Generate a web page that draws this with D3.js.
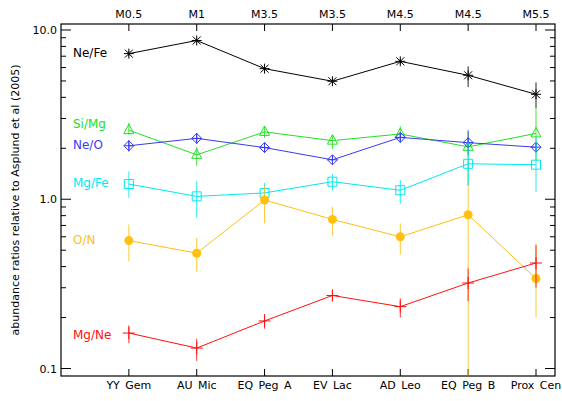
<!DOCTYPE html>
<html>
<head>
<meta charset="utf-8">
<script src="https://cdn.jsdelivr.net/npm/d3@7"></script>
<style>
  body { margin: 0; background: #fff; }
  svg { font-family: "DejaVu Sans", sans-serif; font-size: 11px; }
</style>
</head>
<body>
<div id="chart"></div>
<script>
// chart data
const stars = ["YY Gem", "AU Mic", "EQ Peg A", "EV Lac", "AD Leo", "EQ Peg B", "Prox Cen"];
const spectralTypes = ["M0.5", "M1", "M3.5", "M3.5", "M4.5", "M4.5", "M5.5"];
const yTickLabels = ["10.0", "1.0", "0.1"];

const neFe = [7.25, 8.67, 5.91, 4.98, 6.53, 5.4, 4.17];
const neFeLo = [7.0, 8.4, 5.75, 4.85, 6.3, 4.6, 3.45];
const neFeHi = [7.5, 8.9, 6.05, 5.1, 6.75, 6.1, 4.9];

const siMg = [2.56, 1.83, 2.5, 2.22, 2.43, 2.04, 2.45];
const siMgLo = [2.4, 1.58, 2.3, 1.98, 2.15, 1.2, 1.7];
const siMgHi = [2.83, 2.04, 2.7, 2.4, 2.7, 2.5, 3.6];

const neO = [2.07, 2.29, 2.02, 1.71, 2.32, 2.16, 2.03];
const neOLo = [1.91, 2.12, 1.9, 1.62, 2.2, 1.83, 1.9];
const neOHi = [2.24, 2.46, 2.15, 1.8, 2.45, 2.56, 2.15];

const mgFe = [1.23, 1.04, 1.09, 1.27, 1.13, 1.62, 1.6];
const mgFeLo = [1.02, 0.78, 0.95, 1.13, 0.94, 1.2, 1.1];
const mgFeHi = [1.46, 1.28, 1.25, 1.41, 1.3, 2.2, 2.3];

const oN = [0.57, 0.48, 0.99, 0.76, 0.6, 0.81, 0.34];
const oNLo = [0.43, 0.37, 0.72, 0.61, 0.47, 0.05, 0.2];
const oNHi = [0.71, 0.59, 1.2, 0.9, 0.72, 1.19, 0.53];

const mgNe = [0.162, 0.132, 0.191, 0.27, 0.232, 0.32, 0.42];
const mgNeLo = [0.141, 0.111, 0.172, 0.25, 0.2, 0.25, 0.3];
const mgNeHi = [0.18, 0.15, 0.21, 0.29, 0.26, 0.39, 0.54];

const series = [
  {name: "Ne/Fe", vals: neFe, lo: neFeLo, hi: neFeHi, color: "#000000", sym: "asterisk", ly: 57},
  {name: "Si/Mg", vals: siMg, lo: siMgLo, hi: siMgHi, color: "#22e022", sym: "triangle", ly: 128},
  {name: "Ne/O", vals: neO, lo: neOLo, hi: neOHi, color: "#3a3af0", sym: "diamond", ly: 149},
  {name: "Mg/Fe", vals: mgFe, lo: mgFeLo, hi: mgFeHi, color: "#00e8f0", sym: "square", ly: 187},
  {name: "O/N", vals: oN, lo: oNLo, hi: oNHi, color: "#ffc010", sym: "circle", ly: 244},
  {name: "Mg/Ne", vals: mgNe, lo: mgNeLo, hi: mgNeHi, color: "#ff1010", sym: "plus", ly: 339}
];

const W = 562, H = 401;
const M = {left: 61, right: 555, top: 24, bottom: 376};

const x = d3.scaleLinear().domain([0, 7.28]).range([M.left, M.right]);
const y = d3.scaleLog().domain([0.0903, 10.85]).range([M.bottom, M.top]);

const svg = d3.select("#chart").append("svg").attr("width", W).attr("height", H);

svg.append("clipPath").attr("id", "clip")
  .append("rect").attr("x", M.left).attr("y", M.top)
  .attr("width", M.right - M.left).attr("height", M.bottom - M.top);

// frame
svg.append("rect").attr("x", M.left).attr("y", M.top)
  .attr("width", M.right - M.left).attr("height", M.bottom - M.top)
  .attr("fill", "none").attr("stroke", "#000").attr("stroke-width", 1.2);

const idx = d3.range(1, stars.length + 1);

// x ticks, bottom and top
const axisG = svg.append("g").attr("stroke", "#000").attr("stroke-width", 1);
idx.forEach(i => {
  axisG.append("line").attr("x1", x(i)).attr("x2", x(i)).attr("y1", M.bottom).attr("y2", M.bottom - 7);
  axisG.append("line").attr("x1", x(i)).attr("x2", x(i)).attr("y1", M.top).attr("y2", M.top + 7);
});

// y ticks (log, major + minor), left and right
const yticks = [];
[0.1, 1].forEach(d => { for (let k = 1; k < 10; k++) yticks.push(d * k); });
yticks.push(10);
yticks.forEach(t => {
  const major = [0.1, 1, 10].includes(+t.toFixed(3));
  const len = major ? 10 : 5;
  axisG.append("line").attr("x1", M.left).attr("x2", M.left + len).attr("y1", y(t)).attr("y2", y(t));
  axisG.append("line").attr("x1", M.right).attr("x2", M.right - len).attr("y1", y(t)).attr("y2", y(t));
});

// tick labels
svg.selectAll(".ylab").data([10, 1, 0.1]).enter().append("text")
  .attr("x", M.left - 4).attr("y", d => y(d) + 4).attr("text-anchor", "end")
  .text((d, i) => yTickLabels[i]);

svg.selectAll(".blab").data(stars).enter().append("text")
  .attr("x", (d, i) => x(i + 1)).attr("y", 389).attr("text-anchor", "middle")
  .style("word-spacing", "2px")
  .text(d => d);

svg.selectAll(".tlab").data(spectralTypes).enter().append("text")
  .attr("x", (d, i) => x(i + 1)).attr("y", 18).attr("text-anchor", "middle")
  .text(d => d);

svg.append("text")
  .attr("transform", `translate(19,${(M.top + M.bottom) / 2}) rotate(-90)`)
  .attr("text-anchor", "middle")
  .text("abundance ratios relative to Asplund et al (2005)");

// symbols
function symbolPath(type) {
  switch (type) {
    case "asterisk": return "M-5,0H5M0,-5V5M-4,-4L4,4M-4,4L4,-4";
    case "triangle": return "M0,-6L5,3.5H-5Z";
    case "diamond": return "M0,-5L5,0L0,5L-5,0ZM-5,0H5M0,-5V5";
    case "square": return "M-4.5,-4.5H4.5V4.5H-4.5Z";
    case "plus": return "M-6,0H6M0,-6V6";
  }
}

const plot = svg.append("g").attr("clip-path", "url(#clip)");
series.forEach(s => {
  const g = plot.append("g");
  const pts = s.vals.map((v, i) => [x(i + 1), y(v)]);
  // error bars
  g.selectAll("line.err").data(s.vals).enter().append("line")
    .attr("x1", (d, i) => x(i + 1)).attr("x2", (d, i) => x(i + 1))
    .attr("y1", (d, i) => y(s.lo[i])).attr("y2", (d, i) => y(s.hi[i]))
    .attr("stroke", s.color).attr("stroke-width", 1).attr("opacity", 0.85);
  g.append("path").attr("d", d3.line()(pts))
    .attr("fill", "none").attr("stroke", s.color).attr("stroke-width", 1);
  if (s.sym === "circle") {
    g.selectAll("circle").data(pts).enter().append("circle")
      .attr("cx", d => d[0]).attr("cy", d => d[1]).attr("r", 4.5).attr("fill", s.color);
  } else {
    g.selectAll("path.sym").data(pts).enter().append("path")
      .attr("transform", d => `translate(${d[0]},${d[1]})`)
      .attr("d", symbolPath(s.sym))
      .attr("fill", "none").attr("stroke", s.color).attr("stroke-width", 1);
  }
  svg.append("text").attr("x", 73).attr("y", s.ly).attr("fill", s.color)
    .style("font-size", "12px")
    .text(s.name);
});
</script>
</body>
</html>
